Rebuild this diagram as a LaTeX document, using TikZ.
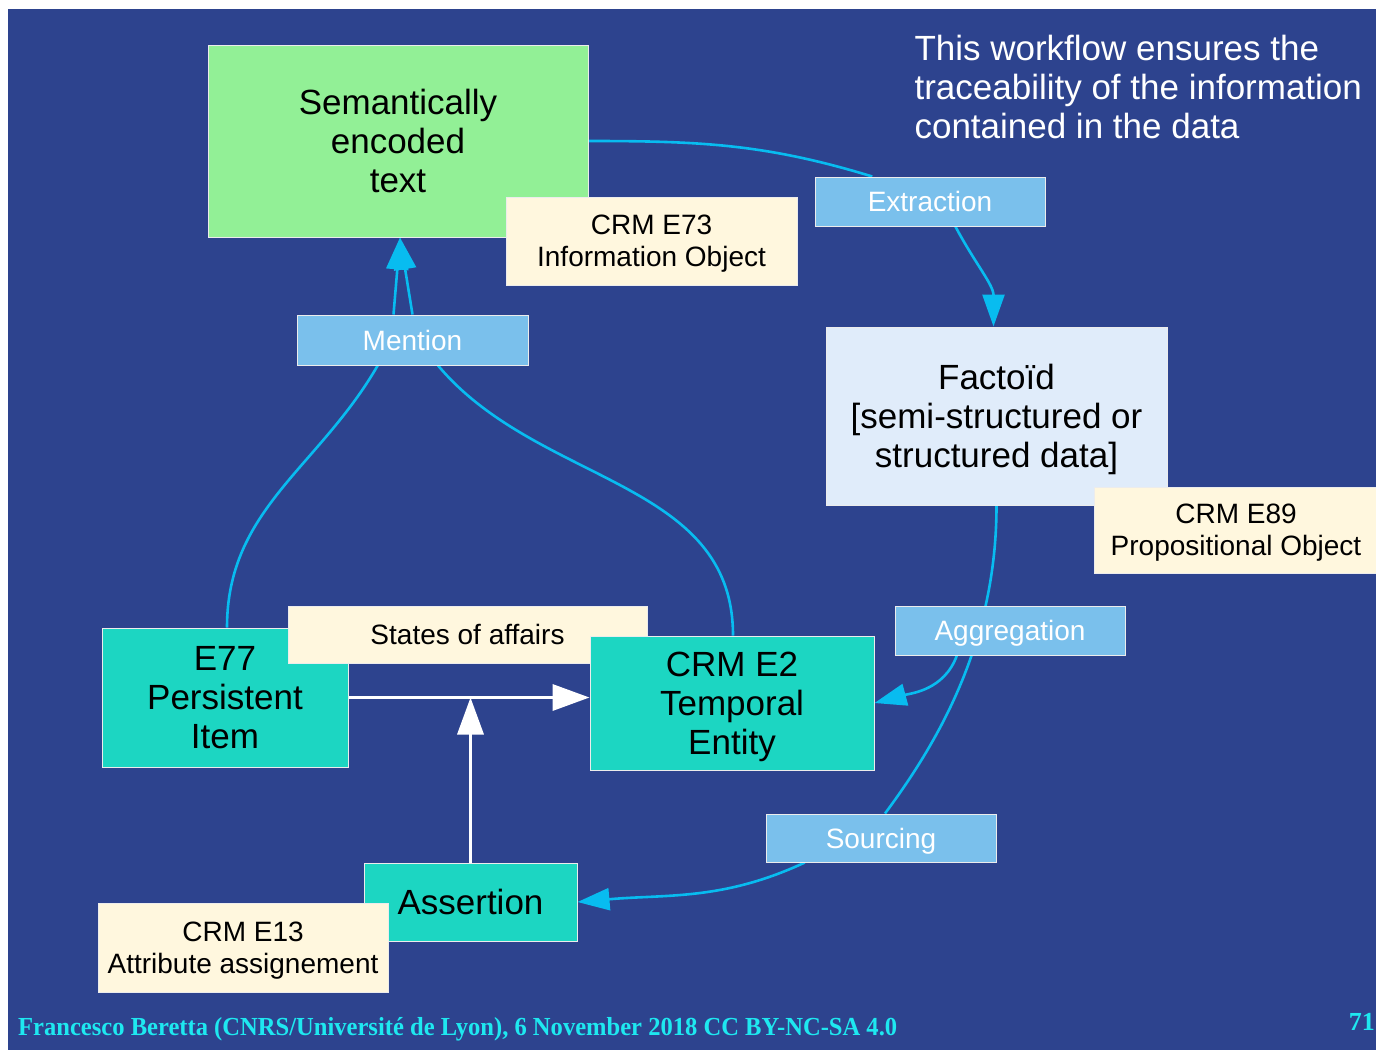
\documentclass[tikz,border=0pt]{standalone}
\usepackage{fontspec}
\setmainfont{Liberation Sans}
\newfontfamily\footfont{Liberation Serif}
\usetikzlibrary{arrows.meta,calc}
\definecolor{bgblue}{RGB}{45,67,142}
\definecolor{boxgreen}{RGB}{146,240,150}
\definecolor{cream}{RGB}{255,247,222}
\definecolor{skyb}{RGB}{122,192,236}
\definecolor{factbg}{RGB}{224,236,250}
\definecolor{turq}{RGB}{28,214,194}
\definecolor{lineblue}{RGB}{8,188,240}
\definecolor{footcyan}{RGB}{30,232,240}
\pgfdeclarelayer{bglayer}
\pgfdeclarelayer{lines}
\pgfsetlayers{bglayer,lines,main}
\tikzset{
  bigfont/.style={font=\fontsize{35}{39}\selectfont},
  smallfont/.style={font=\fontsize{28}{32}\selectfont},
  basebox/.style={rectangle, inner sep=0pt, align=center, text depth=0pt, draw=white!85!gray, line width=1pt, text=black},
  greenbox/.style={basebox, fill=boxgreen, bigfont},
  creambox/.style={basebox, fill=cream, smallfont},
  skybox/.style={basebox, fill=skyb, smallfont, text=white},
  factbox/.style={basebox, fill=factbg, bigfont},
  turqbox/.style={basebox, fill=turq, bigfont},
  flow/.style={draw=lineblue, line width=2.6pt},
  flowarrow/.style={flow, -{Triangle[length=32pt,width=22pt]}},
  whitearrow/.style={draw=white, line width=3.5pt, -{Triangle[length=37pt,width=26pt]}},
  footstyle/.style={inner sep=0pt, text=footcyan, font=\footfont\bfseries\fontsize{26}{30}\selectfont},
}
\begin{document}
\begin{tikzpicture}[x=1pt,y=1pt]
\useasboundingbox (0,0) rectangle (1376,-1050);
\begin{pgfonlayer}{bglayer}
\fill[white] (0,0) rectangle (1376,-1050);
\fill[bgblue] (8,-9) rectangle (1376,-1050);
\end{pgfonlayer}

% nodes
\node[greenbox, minimum width=380pt, minimum height=192pt] (sem) at (398,-141) {Semantically\\encoded\\text};
\node[creambox, minimum width=291pt, minimum height=88pt] (e73) at (651.5,-241) {CRM E73\\Information Object};
\node[anchor=west, align=left, text=white, bigfont] (note) at (911,-87) {This workflow ensures the\\traceability of the information\\contained in the data};
\node[skybox, minimum width=230pt, minimum height=49pt] (extr) at (930,-201.5) {Extraction};
\node[factbox, minimum width=341pt, minimum height=178pt] (fact) at (996.5,-416) {Facto\"id\\{[}semi-structured or\\structured data{]}};
\node[creambox, minimum width=284pt, minimum height=86pt] (e89) at (1236,-530) {CRM E89\\Propositional Object};
\node[skybox, minimum width=231pt, minimum height=50pt] (mention) at (412.5,-340) {Mention};
\node[turqbox, minimum width=246pt, minimum height=139pt] (e77) at (225,-697.5) {E77\\Persistent\\Item};
\node[creambox, minimum width=359pt, minimum height=57pt] (soa) at (467.5,-634.5) {States of affairs};
\node[turqbox, minimum width=284pt, minimum height=134pt] (e2) at (732,-703) {CRM E2\\Temporal\\Entity};
\node[skybox, minimum width=230pt, minimum height=49pt] (aggr) at (1010,-630.5) {Aggregation};
\node[skybox, minimum width=230pt, minimum height=48pt] (sourc) at (881,-838) {Sourcing};
\node[turqbox, minimum width=213pt, minimum height=78pt] (assert) at (470.5,-902) {Assertion};
\node[creambox, minimum width=290pt, minimum height=89pt] (e13) at (243,-947.5) {CRM E13\\Attribute assignement};

% footer
\node[footstyle, anchor=west] (foot) at (18,-1029) {\resizebox{879pt}{\height}{Francesco Beretta (CNRS/Universit\'e de Lyon), 6 November 2018 CC BY-NC-SA 4.0}};
\node[footstyle, anchor=east] (page) at (1375,-1022) {71};

% connectors (behind the boxes)
\begin{pgfonlayer}{lines}
\draw[flow] (sem.east) to[out=0,in=163] ($(extr.north west)!0.25!(extr.north east)$);
\draw[flowarrow] ($(extr.south west)!0.61!(extr.south east)$) to[out=-62,in=90] ($(fact.north)+(-3,0)$);
\draw[flow] ($(e77.north)+(2,0)$) to[out=90,in=-120] ($(mention.south west)!0.35!(mention.south east)$);
\draw[flow] ($(e2.north)+(1,0)$) to[out=90,in=-50] ($(mention.south west)!0.61!(mention.south east)$);
\draw[flowarrow] ($(mention.north)+(-19,0)$) -- ($(sem.south)+(2,0)$);
\draw[flowarrow] ($(mention.north)+(0,0)$) -- ($(sem.south)+(2,0)$);
\draw[flow] (fact.south) .. controls +(0,-135) and +(55,74) .. ($(sourc.north)+(4,0)$);
\draw[flowarrow] ($(aggr.south west)!0.27!(aggr.south east)$) to[out=-110,in=15] (e2.east);
\draw[flowarrow] ($(sourc.south west)!0.17!(sourc.south east)$) to[out=-155,in=5] (assert.east);
\draw[whitearrow] (e77.east) -- (e77.east -| e2.west);
\draw[whitearrow] (assert.north) -- (assert.north |- e77.east);
\end{pgfonlayer}
\end{tikzpicture}
\end{document}
